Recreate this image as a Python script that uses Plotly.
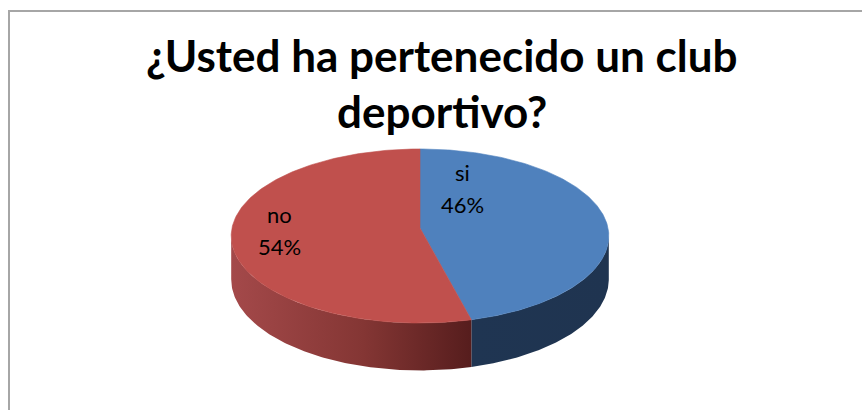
import numpy as np
import plotly.graph_objects as go

# Survey answers and their shares (%)
categories = ["si", "no"]
percent = [46, 54]

title_lines = ["¿Usted ha pertenecido un club", "deportivo?"]

top_colors = ["#4f81bd", "#c0504d"]
side_scales = [
    [[0, "#1f3552"], [1, "#1f3450"]],
    [[0, "#a4494a"], [0.55, "#843634"], [1, "#561d1d"]],
]
# label placement on the top face: (angle clockwise from 12 o'clock, radius fraction)
label_place = [(27.7, 0.49), (266.4, 0.75)]

W, H = 862, 410
cx, cy = 420, 228          # centre of the disc on screen
R, RY = 188.0, 86.3        # horizontal radius, vertical radius of the tilted top
K = 0.092                  # perspective strength
DEPTH = 43.0               # thickness of the disc


def proj(theta_deg, r=1.0, drop=0.0):
    """Project a point of the tilted disc (angle clockwise from top) to screen."""
    t = np.radians(theta_deg)
    X = r * np.sin(t)
    Z = -r * np.cos(t)      # positive toward the viewer
    w = 1 - K * Z
    return cx + R * X / w, cy + (RY * Z + drop) / w


total = float(sum(percent))
edges = np.concatenate([[0.0], np.cumsum(percent) / total * 360.0])

# rim is visible between these angles (silhouette of the perspective disc)
front_a = np.degrees(np.arccos(-K))
front_b = 360.0 - front_a

fig = go.Figure()

# side walls
for i, cat in enumerate(categories):
    a0, a1 = max(edges[i], front_a), min(edges[i + 1], front_b)
    if a1 <= a0:
        continue
    th = np.linspace(a0, a1, 120)
    xt, yt = proj(th)
    xb, yb = proj(th[::-1], drop=DEPTH)
    xs = np.concatenate([xt, xb, xt[:1]])
    ys = np.concatenate([yt, yb, yt[:1]])
    fig.add_trace(go.Scatter(
        x=xs, y=ys, mode="lines", fill="toself",
        fillgradient=dict(type="horizontal", colorscale=side_scales[i]),
        line=dict(width=0), hoverinfo="skip", showlegend=False,
    ))

# top faces
for i, cat in enumerate(categories):
    th = np.linspace(edges[i], edges[i + 1], 200)
    xa, ya = proj(th)
    xs = np.concatenate([[cx], xa, [cx]])
    ys = np.concatenate([[cy], ya, [cy]])
    fig.add_trace(go.Scatter(
        x=xs, y=ys, mode="lines", fill="toself",
        fillcolor=top_colors[i], line=dict(width=0.6, color=top_colors[i]),
        name=cat, hoverinfo="name", showlegend=False,
    ))

annotations = []
label_font = dict(family="Lato", size=22, color="#000000")
for i, cat in enumerate(categories):
    ang, rf = label_place[i]
    t = np.radians(ang)
    lx = cx + R * rf * np.sin(t)
    ly = cy - RY * rf * np.cos(t)
    annotations.append(dict(x=lx, y=ly - 18, text=cat, showarrow=False,
                            xanchor="center", yanchor="middle", font=label_font))
    annotations.append(dict(x=lx, y=ly + 14, text=f"{percent[i]:.0f}%", showarrow=False,
                            xanchor="center", yanchor="middle", font=label_font))

title_font = dict(family="Lato", size=44, color="#000000", weight="bold")
annotations.append(dict(x=442, y=55, text=title_lines[0], showarrow=False,
                        xanchor="center", yanchor="middle", font=title_font))
annotations.append(dict(x=442, y=111, text=title_lines[1], showarrow=False,
                        xanchor="center", yanchor="middle", font=title_font))

fig.update_layout(
    width=W, height=H,
    margin=dict(l=0, r=0, t=0, b=0),
    paper_bgcolor="white", plot_bgcolor="white",
    xaxis=dict(range=[0, W], visible=False, fixedrange=True),
    yaxis=dict(range=[H, 0], visible=False, fixedrange=True),
    annotations=annotations,
    shapes=[dict(type="rect", xref="x", yref="y", x0=9, y0=11, x1=W + 40, y1=H + 40,
                 line=dict(color="#a6a6a6", width=2), fillcolor="rgba(0,0,0,0)",
                 layer="below")],
)

fig.write_html("out.html")
